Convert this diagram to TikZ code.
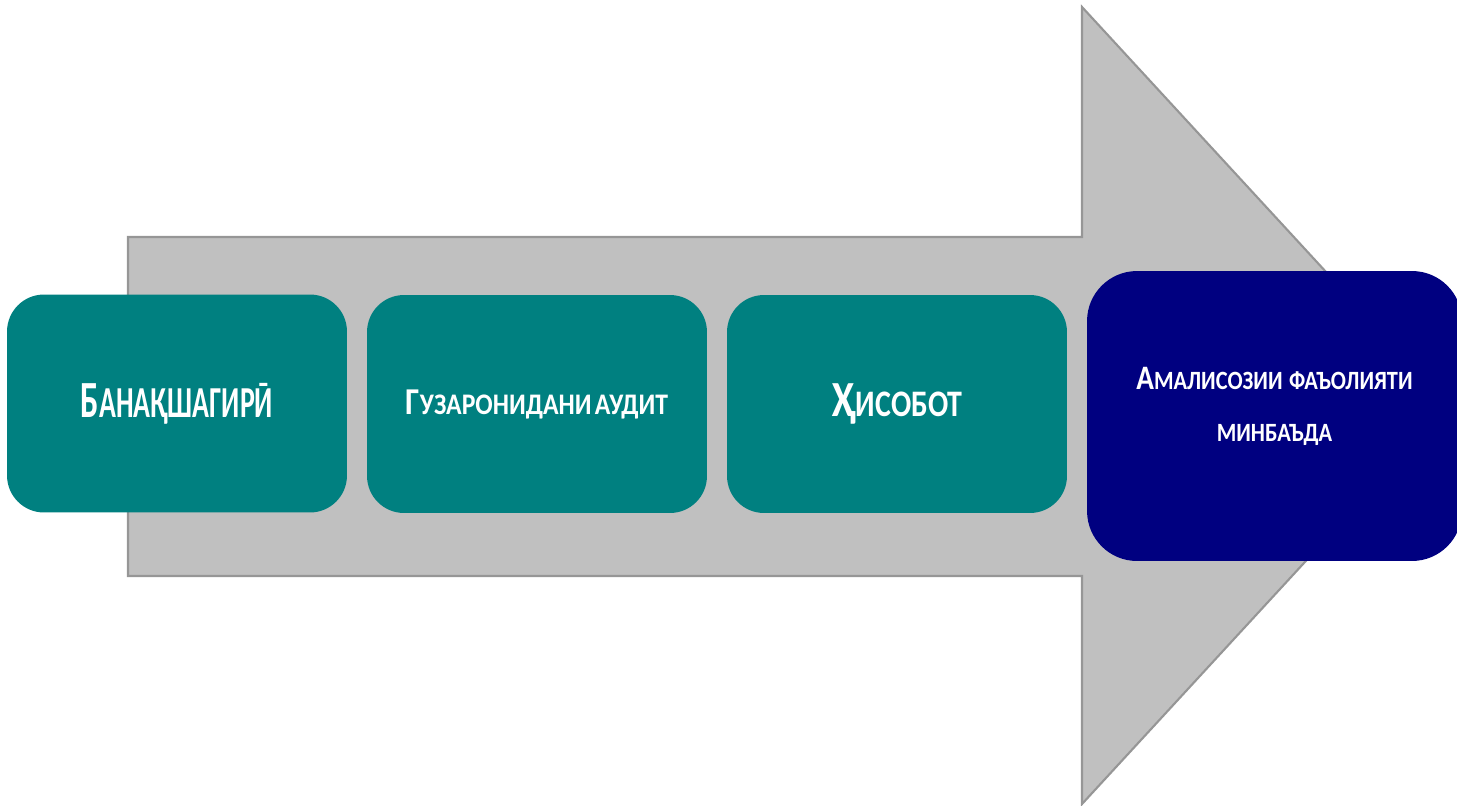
\documentclass[tikz,border=0pt]{standalone}
\usepackage{fontspec}
\setmainfont{Carlito}
\usepackage{graphicx}
\usetikzlibrary{positioning}
\definecolor{stepteal}{RGB}{0,128,128}
\definecolor{stepnavy}{RGB}{0,0,128}
\definecolor{arrowgray}{RGB}{192,192,192}
\definecolor{arrowedge}{RGB}{150,150,150}
% first letter big, the rest as small capitals
\newcommand{\scword}[4]{{\fontsize{#1}{#1}\selectfont #2}{\fontsize{#3}{#3}\selectfont #4}}
\newcommand{\narrow}[2]{\scalebox{#1}[1]{#2}}

\begin{document}
\begin{tikzpicture}[x=0.02cm, y=-0.02cm,
    stepbox/.style={rectangle, rounded corners=0.74cm, fill=stepteal, text=white,
        font=\bfseries, minimum width=6.8cm, minimum height=4.36cm, inner sep=0pt}]
    \useasboundingbox (0,0) rectangle (1457,805);
    % big arrow behind the steps
    \draw[arrowedge, fill=arrowgray, line width=1.2pt]
        (128,237) -- (1082,237) -- (1082,7) -- (1449,405.5) -- (1082,804)
        -- (1082,576) -- (128,576) -- cycle;
    \node[stepbox] (plan) at (177,403.5)
        {\narrow{0.63}{\scword{29.7pt}{Б}{25.2pt}{АНАҚШАГИРӢ}}};
    \node[stepbox] (audit) at (537,404)
        {\narrow{0.86}{\scword{21.6pt}{Г}{17pt}{УЗАРОНИДАНИ} \scword{17pt}{А}{17pt}{УДИТ}}};
    \node[stepbox] (report) at (897,404)
        {\narrow{0.8}{\scword{28.8pt}{Ҳ}{21.3pt}{ИСОБОТ}}};
    \node[stepbox, fill=stepnavy, rounded corners=1cm, minimum width=7.5cm,
        minimum height=5.8cm, font={\bfseries\fontsize{19.5pt}{29.8pt}\selectfont}]
        (next) at (1274.5,416)
        {\narrow{0.85}{\begin{tabular}{@{}c@{}}
            \scword{19.5pt}{А}{15pt}{МАЛИСОЗИИ} \scword{15pt}{Ф}{15pt}{АЪОЛИЯТИ}\\
            \scword{15pt}{М}{15pt}{ИНБАЪДА}\\[0.44cm]
        \end{tabular}}};
\end{tikzpicture}
\end{document}
